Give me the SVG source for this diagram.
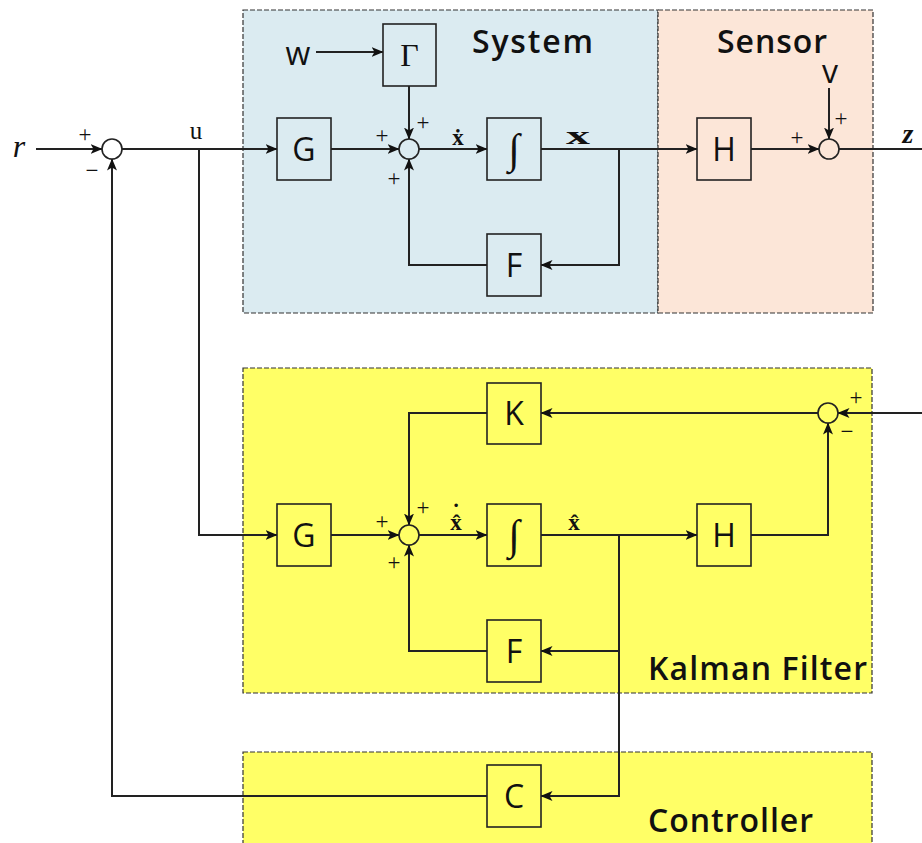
<svg xmlns="http://www.w3.org/2000/svg" width="922" height="843" viewBox="0 0 922 843">
<style>
.blk{fill:none;stroke:#222;stroke-width:1.6}
.kblk{fill:#ffff66;stroke:#222;stroke-width:1.6}
.sj{fill:none;stroke:#222;stroke-width:1.6}
.ksj{fill:#ffff66;stroke:#222;stroke-width:1.6}
.ln{fill:none;stroke:#222;stroke-width:2}
.lna{fill:none;stroke:#222;stroke-width:2;marker-end:url(#ah)}
.region{stroke:#333;stroke-width:1.2;stroke-dasharray:5 2}
.lab{font-family:"Open Sans","Liberation Sans",sans-serif;font-size:32px;fill:#111;text-anchor:middle}
.title{font-family:"Open Sans","Liberation Sans",sans-serif;font-size:32px;font-weight:600;fill:#111}
.ser{font-family:"Liberation Serif","DejaVu Serif",serif;fill:#111}
.intg{font-family:"Liberation Serif","DejaVu Serif",serif;font-size:42px;fill:#111;text-anchor:middle}
.pm{font-family:"Liberation Serif","DejaVu Serif",serif;font-size:23px;fill:#111;text-anchor:middle}
</style>
<defs>
<marker id="ah" viewBox="0 0 12 10" refX="11.5" refY="5" markerWidth="12" markerHeight="10" markerUnits="userSpaceOnUse" orient="auto">
<path d="M0,0 L12,5 L0,10 L3,5 z" fill="#111"/>
</marker>
</defs>

<g id="regions">
<rect id="system-region" class="region" x="243" y="10" width="415" height="303" fill="#dbebf1"/>
<rect id="sensor-region" class="region" x="658" y="10" width="215" height="303" fill="#fce6d8"/>
<rect id="kalman-region" class="region" x="243" y="368" width="629" height="325" fill="#ffff66"/>
<rect id="controller-region" class="region" x="243" y="752" width="629" height="100" fill="#ffff66"/>
<text class="title" x="472" y="53" textLength="121">System</text>
<text class="title" x="717" y="53" textLength="110">Sensor</text>
<text class="title" x="648" y="680" textLength="219">Kalman Filter</text>
<text class="title" x="648" y="832" textLength="165">Controller</text>
</g>

<g id="connectors">
<line class="lna" x1="36" y1="149" x2="102" y2="149"/>
<line class="lna" x1="122" y1="149" x2="277" y2="149"/>
<polyline class="lna" points="199,149 199,535 277,535"/>
<line class="lna" x1="331" y1="149" x2="399" y2="149"/>
<line class="lna" x1="316" y1="52" x2="383" y2="52"/>
<line class="lna" x1="409" y1="86" x2="409" y2="139"/>
<line class="lna" x1="419" y1="149" x2="487" y2="149"/>
<line class="lna" x1="541" y1="149" x2="697" y2="149"/>
<polyline class="lna" points="619,149 619,265 541,265"/>
<polyline class="lna" points="487,265 409,265 409,159"/>
<line class="lna" x1="751" y1="149" x2="819" y2="149"/>
<line class="lna" x1="829" y1="88" x2="829" y2="139"/>
<line class="ln" x1="839" y1="149" x2="922" y2="149"/>
<line class="lna" x1="922" y1="413" x2="838" y2="413"/>
<line class="lna" x1="818" y1="413" x2="541" y2="413"/>
<polyline class="lna" points="487,413 409,413 409,525"/>
<line class="lna" x1="331" y1="535" x2="399" y2="535"/>
<line class="lna" x1="419" y1="535" x2="487" y2="535"/>
<line class="lna" x1="541" y1="535" x2="697" y2="535"/>
<polyline class="lna" points="751,535 828,535 828,423"/>
<polyline class="lna" points="619,535 619,651 541,651"/>
<polyline class="lna" points="487,651 409,651 409,545"/>
<polyline class="lna" points="619,651 619,796 541,796"/>
<polyline class="lna" points="487,796 112,796 112,159"/>
</g>

<g id="labels">
<text class="ser" x="19" y="157" font-size="32" font-style="italic" text-anchor="middle">r</text>
<text class="ser" x="196" y="139" font-size="25" text-anchor="middle">u</text>
<text class="ser" x="908" y="143" font-size="28" font-style="italic" font-weight="bold" text-anchor="middle">z</text>
<text class="lab" x="298" y="65" font-size="32">w</text>
<text class="lab" x="830" y="83" font-size="28">v</text>
<text class="ser" x="458" y="145" font-size="23" font-weight="bold" text-anchor="middle">ẋ</text>
<text class="ser" x="578" y="144" font-size="26" font-weight="bold" text-anchor="middle" textLength="24" lengthAdjust="spacingAndGlyphs">x</text>
<text class="ser" x="456" y="530" font-size="23" font-weight="bold" text-anchor="middle">x&#x302;<tspan x="456" y="520">˙</tspan></text>
<text class="ser" x="574" y="530" font-size="23" font-weight="bold" text-anchor="middle">x&#x302;</text>
<text class="pm" x="85" y="142">+</text>
<text class="pm" x="92" y="178">−</text>
<text class="pm" x="382" y="143">+</text>
<text class="pm" x="423" y="130">+</text>
<text class="pm" x="394" y="186">+</text>
<text class="pm" x="797" y="145">+</text>
<text class="pm" x="841" y="126">+</text>
<text class="pm" x="382" y="529">+</text>
<text class="pm" x="423" y="515">+</text>
<text class="pm" x="394" y="570">+</text>
<text class="pm" x="856" y="405">+</text>
<text class="pm" x="847" y="439">−</text>
</g>

<g id="sum-ref"><circle class="sj" cx="112" cy="149" r="10" fill="#fff"/></g>
<g id="sum-sys"><circle class="sj" cx="409" cy="149" r="10"/></g>
<g id="sum-sensor"><circle class="sj" cx="829" cy="149" r="10"/></g>
<g id="sum-kf"><circle class="ksj" cx="409" cy="535" r="10"/></g>
<g id="sum-innov"><circle class="ksj" cx="828" cy="413" r="10"/></g>

<g id="sys-G"><rect class="blk" x="277" y="118" width="54" height="62"/><text class="lab" x="304" y="161">G</text></g>
<g id="sys-Gamma"><rect class="blk" x="383" y="24" width="53" height="62"/><text class="ser" x="409.5" y="66" font-size="32" text-anchor="middle">Γ</text></g>
<g id="sys-int"><rect class="blk" x="487" y="118" width="54" height="62"/><text class="intg" x="514" y="163">∫</text></g>
<g id="sys-F"><rect class="blk" x="487" y="234" width="54" height="62"/><text class="lab" x="514" y="277">F</text></g>
<g id="sens-H"><rect class="blk" x="697" y="118" width="54" height="62"/><text class="lab" x="724" y="161">H</text></g>

<g id="kf-K"><rect class="kblk" x="487" y="383" width="54" height="61"/><text class="lab" x="514" y="425">K</text></g>
<g id="kf-G"><rect class="kblk" x="277" y="504" width="54" height="62"/><text class="lab" x="304" y="547">G</text></g>
<g id="kf-int"><rect class="kblk" x="487" y="504" width="54" height="62"/><text class="intg" x="514" y="549">∫</text></g>
<g id="kf-F"><rect class="kblk" x="487" y="620" width="54" height="62"/><text class="lab" x="514" y="663">F</text></g>
<g id="kf-H"><rect class="kblk" x="697" y="504" width="54" height="62"/><text class="lab" x="724" y="547">H</text></g>

<g id="ctrl-C"><rect class="kblk" x="487" y="765" width="54" height="62"/><text class="lab" x="514" y="808">C</text></g>
</svg>
